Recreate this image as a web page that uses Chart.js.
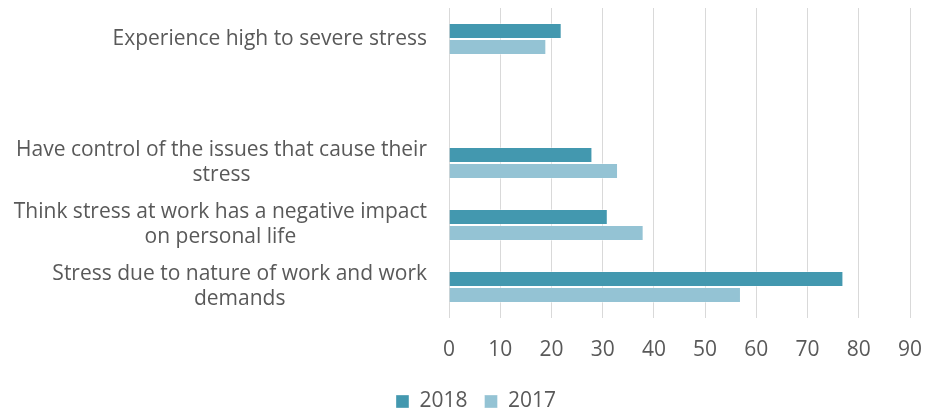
<!DOCTYPE html>
<html>
<head>
<meta charset="utf-8">
<script src="https://cdn.jsdelivr.net/npm/chart.js@4.4.0/dist/chart.umd.min.js"></script>
<style>
  html, body { margin: 0; padding: 0; background: #fff; }
  .chart-container { width: 926px; height: 412px; position: relative; }
</style>
</head>
<body>
<div class="chart-container">
  <canvas id="chart"></canvas>
</div>
<script>
const categories = [
  ['Experience high to severe stress'],
  [''],
  ['Have control of the issues that cause their', 'stress'],
  ['Think stress at work has a negative impact', 'on personal life'],
  ['Stress due to nature of work and work', 'demands'],
];
const values2018 = [22, null, 28, 31, 77];
const values2017 = [19, null, 33, 38, 57];
const xTicks = [0, 10, 20, 30, 40, 50, 60, 70, 80, 90];

const textColor = '#595959';
const fontFamily = '"Open Sans", sans-serif';
const fontSize = 21;

// Excel style category labels: lines centred inside a right aligned block
const blockLabels = {
  id: 'blockLabels',
  afterDraw(chart) {
    const s = chart.scales.y;
    const ctx = chart.ctx;
    ctx.save();
    ctx.font = fontSize + 'px ' + fontFamily;
    ctx.fillStyle = textColor;
    ctx.textAlign = 'center';
    ctx.textBaseline = 'middle';
    const lh = 25;
    categories.forEach((lines, i) => {
      const w = Math.max(...lines.map(l => ctx.measureText(l).width));
      const cx = chart.chartArea.left - 22 - w / 2;
      const y = s.getPixelForTick(i);
      const start = y - (lines.length - 1) * lh / 2;
      lines.forEach((l, j) => ctx.fillText(l, cx, start + j * lh));
    });
    ctx.restore();
  }
};

new Chart(document.getElementById('chart').getContext('2d'), {
  type: 'bar',
  data: {
    labels: categories,
    datasets: [
      {
        label: '2018',
        data: values2018,
        backgroundColor: '#4398AF',
        borderColor: 'rgba(255,255,255,0.35)',
        borderWidth: 1,
        categoryPercentage: 0.518,
        barPercentage: 1.0,
      },
      {
        label: '2017',
        data: values2017,
        backgroundColor: '#94C3D4',
        borderColor: 'rgba(255,255,255,0.35)',
        borderWidth: 1,
        categoryPercentage: 0.518,
        barPercentage: 1.0,
      },
    ],
  },
  options: {
    indexAxis: 'y',
    responsive: true,
    maintainAspectRatio: false,
    animation: false,
    layout: { padding: { top: 8, right: 16, bottom: -10, left: 42 } },
    scales: {
      x: {
        min: 0,
        max: 90,
        afterBuildTicks: (scale) => { scale.ticks = xTicks.map(v => ({ value: v })); },
        afterFit: (scale) => {
          scale.paddingLeft = 0;
          scale.paddingRight = 0;
          scale.height = 56;
        },
        grid: { color: '#D9D9D9', lineWidth: 1, tickLength: 0 },
        border: { display: false },
        ticks: {
          color: textColor,
          font: { family: fontFamily, size: fontSize },
          padding: 19,
          maxRotation: 0,
        },
      },
      y: {
        grid: { display: false },
        border: { display: false },
        ticks: { display: false },
        afterFit: (scale) => { scale.width = 407; },
      },
    },
    plugins: {
      legend: {
        position: 'bottom',
        labels: {
          color: textColor,
          font: { family: fontFamily, size: fontSize },
          boxWidth: 13,
          boxHeight: 13,
          padding: 17,
        },
      },
      tooltip: { enabled: false },
    },
  },
  plugins: [blockLabels],
});
</script>
</body>
</html>
